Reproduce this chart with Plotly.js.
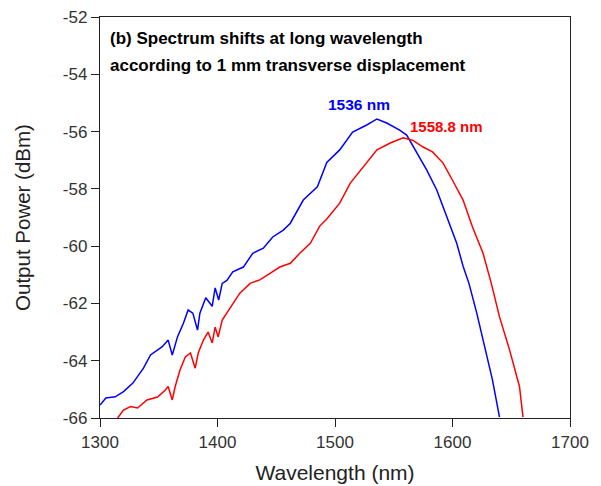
<!DOCTYPE html>
<html><head><meta charset="utf-8">
<script src="https://cdn.plot.ly/plotly-3.0.1.min.js"></script>
<style>body{margin:0;background:#fff}#c{width:601px;height:486px}</style>
</head><body><div id="c"></div>
<script>
const blueX = [1300,1305,1313,1320,1328,1337,1343,1353,1358,1361.5,1366,1371,1375,1379,1383,1385,1390,1392,1395.5,1398,1401,1404,1408,1413,1422,1430,1439,1447,1456,1462,1468,1473,1485,1493,1504,1515,1527,1535.7,1544,1555,1561,1570,1578,1586.6,1595,1603.6,1609,1614,1620.6,1627,1634,1640];
const blueY = [-65.55,-65.3,-65.26,-65.08,-64.78,-64.26,-63.8,-63.51,-63.28,-63.8,-63.16,-62.69,-62.23,-62.34,-62.93,-62.34,-61.8,-61.9,-62.1,-61.46,-61.88,-61.3,-61.2,-60.9,-60.73,-60.25,-60.07,-59.68,-59.44,-59.2,-58.74,-58.39,-57.93,-57.08,-56.64,-56.02,-55.77,-55.56,-55.7,-55.95,-56.12,-56.75,-57.34,-58.04,-58.98,-59.9,-60.7,-61.3,-62.33,-63.5,-64.67,-65.97];
const redX = [1315,1320,1326,1332,1340,1349,1355.6,1358,1361.5,1364,1368,1372.6,1377,1381,1383.6,1388,1392,1395.5,1398,1400.6,1404,1411,1419,1428,1436,1445,1453,1462,1470,1479,1487,1493,1504,1513,1524,1535.7,1547,1558,1566,1575,1583,1592,1600,1609,1617,1626,1633,1640,1648.6,1657,1660];
const redY = [-66,-65.72,-65.6,-65.65,-65.37,-65.27,-65.02,-64.9,-65.37,-64.9,-64.33,-63.87,-63.73,-64.26,-63.73,-63.28,-63.0,-63.38,-62.83,-63.17,-62.58,-62.13,-61.64,-61.29,-61.18,-60.94,-60.73,-60.6,-60.25,-59.9,-59.3,-59.05,-58.5,-57.8,-57.24,-56.64,-56.4,-56.22,-56.3,-56.54,-56.71,-57.1,-57.7,-58.39,-59.33,-60.25,-61.3,-62.47,-63.63,-64.9,-65.97];
const xTicks = [1300,1400,1500,1600,1700];
const yTicks = [-52,-54,-56,-58,-60,-62,-64,-66];
const yTickText = ["-52","-54","-56","-58","-60","-62","-64","-66"];
const titleLines = ["(b) Spectrum shifts at long wavelength", "according to 1 mm transverse displacement"];
const blueLabel = "1536 nm", redLabel = "1558.8 nm";

const font = "Liberation Sans, Arial, sans-serif";
Plotly.newPlot('c', [
  {x: blueX, y: blueY, mode: 'lines', line: {color: '#0000ff', width: 1.5}, hoverinfo: 'skip'},
  {x: redX, y: redY, mode: 'lines', line: {color: '#ff0000', width: 1.5}, hoverinfo: 'skip'}
], {
  width: 601, height: 486, showlegend: false,
  margin: {l: 100, r: 31, t: 17, b: 68},
  paper_bgcolor: '#fff', plot_bgcolor: '#fff',
  font: {family: font, color: '#222'},
  xaxis: {range: [1300, 1700], tickvals: xTicks, ticks: 'outside', ticklen: 8, tickcolor: '#222',
    showline: true, linecolor: '#222', linewidth: 1.2, mirror: true, showgrid: false, zeroline: false,
    tickfont: {size: 17, family: font, color: '#333'},
    title: {text: 'Wavelength (nm)', font: {size: 21, family: font, color: '#222'}, standoff: 14}},
  yaxis: {range: [-66, -52], tickvals: yTicks, ticktext: yTickText, ticks: 'outside', ticklen: 8, tickcolor: '#222',
    showline: true, linecolor: '#222', linewidth: 1.2, mirror: true, showgrid: false, zeroline: false,
    tickfont: {size: 17, family: font, color: '#333'},
    title: {text: 'Output Power (dBm)', font: {size: 20.5, family: font, color: '#222'}, standoff: 26}},
  annotations: [
    {xref: 'paper', yref: 'paper', x: 0.018, y: 0.947, xanchor: 'left', yanchor: 'middle', align: 'left',
     text: '<b>' + titleLines[0] + '</b>', showarrow: false,
     font: {size: 17, family: font, color: '#000'}},
    {xref: 'paper', yref: 'paper', x: 0.018, y: 0.880, xanchor: 'left', yanchor: 'middle', align: 'left',
     text: '<b>' + titleLines[1] + '</b>', showarrow: false,
     font: {size: 17, family: font, color: '#000'}},
    {x: 1536, y: -55.5, text: '<b>' + blueLabel + '</b>', showarrow: false, yanchor: 'bottom', xshift: -18, yshift: 2,
     font: {size: 15.5, family: font, color: '#0000ff'}},
    {x: 1564, y: -56.2, text: '<b>' + redLabel + '</b>', showarrow: false, xanchor: 'left', yanchor: 'bottom', xshift: -2, yshift: 0,
     font: {size: 15, family: font, color: '#ff0000'}}
  ]
}, {staticPlot: true});
</script></body></html>
